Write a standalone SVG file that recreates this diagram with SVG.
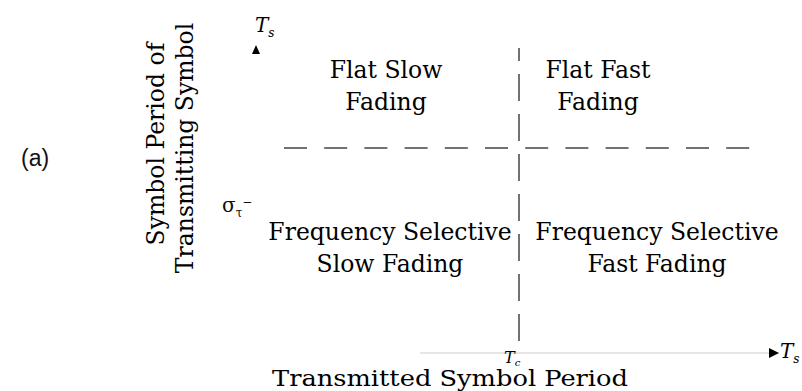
<svg xmlns="http://www.w3.org/2000/svg" width="802" height="391" viewBox="0 0 802 391">
<style>
.lbl{font-family:"DejaVu Serif","Liberation Serif",serif;font-size:23.5px;fill:#000;}
.ax{font-family:"DejaVu Serif","Liberation Serif",serif;font-style:italic;fill:#000;}
.dash{stroke:#444;stroke-width:1.5;fill:none;}
</style>
<defs>
<marker id="tri" viewBox="0 0 10 10" refX="10" refY="5" markerWidth="10" markerHeight="10" markerUnits="userSpaceOnUse" orient="auto">
<path d="M0,0 L10,5 L0,10 z" fill="#000"/>
</marker>
</defs>
<rect width="802" height="391" fill="#fff"/>
<g id="connectors">
<line class="dash" x1="284" y1="148" x2="752" y2="148" stroke-dasharray="23 17.2"/>
<line class="dash" x1="519" y1="48" x2="519" y2="341" stroke-dasharray="27 13" stroke-dashoffset="14"/>
<line x1="420" y1="353" x2="779" y2="353" stroke="#ccc" stroke-width="1" marker-end="url(#tri)"/>
<path d="M252,54 L256,45 L260,54 z" fill="#000"/>
</g>
<g id="label-a"><text x="21" y="166" font-family="Liberation Sans, sans-serif" font-size="23" fill="#111">(a)</text></g>
<g id="y-axis-title" class="lbl">
<text transform="translate(164,144) rotate(-90)" text-anchor="middle">Symbol Period of</text>
<text transform="translate(193,148) rotate(-90)" text-anchor="middle">Transmitting Symbol</text>
</g>
<g id="ts-top"><text class="ax" x="255" y="32" font-size="20">T<tspan font-size="12" dy="5">s</tspan></text></g>
<g id="sigma"><text x="222" y="212" font-family="DejaVu Serif, serif" font-size="20" fill="#111">σ<tspan font-size="12" dy="5">τ</tspan><tspan font-size="12" dy="-11">−</tspan></text></g>
<g id="flat-slow" class="lbl">
<text x="386" y="78" text-anchor="middle">Flat Slow</text>
<text x="386" y="110" text-anchor="middle">Fading</text>
</g>
<g id="flat-fast" class="lbl">
<text x="598" y="78" text-anchor="middle">Flat Fast</text>
<text x="598" y="110" text-anchor="middle">Fading</text>
</g>
<g id="fs-slow" class="lbl">
<text x="390" y="240" text-anchor="middle">Frequency Selective</text>
<text x="390" y="272" text-anchor="middle">Slow Fading</text>
</g>
<g id="fs-fast" class="lbl">
<text x="657" y="240" text-anchor="middle">Frequency Selective</text>
<text x="657" y="272" text-anchor="middle">Fast Fading</text>
</g>
<g id="tc"><text class="ax" x="504" y="363" font-size="16">T<tspan font-size="10" dy="3">c</tspan></text></g>
<g id="ts-right"><text class="ax" x="780" y="358" font-size="20">T<tspan font-size="12" dy="5">s</tspan></text></g>
<g id="x-axis-title" class="lbl"><text x="450" y="386" font-size="22" text-anchor="middle" textLength="356" lengthAdjust="spacingAndGlyphs">Transmitted Symbol Period</text></g>
</svg>
